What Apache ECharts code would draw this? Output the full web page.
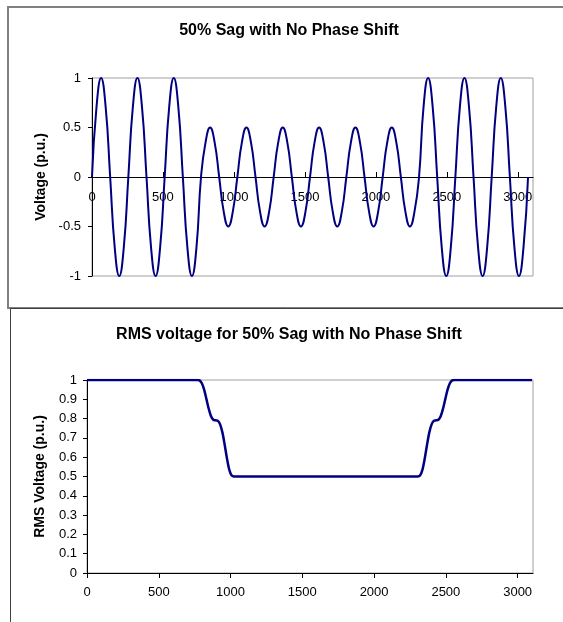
<!DOCTYPE html>
<html>
<head>
<meta charset="utf-8">
<script src="https://cdn.jsdelivr.net/npm/echarts@6/dist/echarts.min.js"></script>
<style>
  html, body { margin: 0; padding: 0; background: #fff; }
  #sag_chart { width: 563px; height: 622px; }
</style>
</head>
<body>
<div id="sag_chart"></div>
<script>
// samples of the instantaneous voltage (8 per cycle)
var waveTime = [0, 32, 64, 96, 128, 160, 192, 224, 256, 288, 320, 352, 384, 416, 448, 480,
    512, 544, 576, 608, 640, 672, 704, 736, 768, 800, 832, 864, 896, 928, 960, 992,
    1024, 1056, 1088, 1120, 1152, 1184, 1216, 1248, 1280, 1312, 1344, 1376, 1408, 1440, 1472, 1504,
    1536, 1568, 1600, 1632, 1664, 1696, 1728, 1760, 1792, 1824, 1856, 1888, 1920, 1952, 1984, 2016,
    2048, 2080, 2112, 2144, 2176, 2208, 2240, 2272, 2304, 2336, 2368, 2400, 2432, 2464, 2496, 2528,
    2560, 2592, 2624, 2656, 2688, 2720, 2752, 2784, 2816, 2848, 2880, 2912, 2944, 2976, 3008, 3040, 3072];
var waveVolts = [0, 0.71, 1, 0.71, 0, -0.71, -1, -0.71, 0, 0.71, 1, 0.71, 0, -0.71, -1, -0.71,
    0, 0.71, 1, 0.71, 0, -0.71, -1, -0.71, 0, 0.35, 0.5, 0.35, 0, -0.35, -0.5, -0.35,
    0, 0.35, 0.5, 0.35, 0, -0.35, -0.5, -0.35, 0, 0.35, 0.5, 0.35, 0, -0.35, -0.5, -0.35,
    0, 0.35, 0.5, 0.35, 0, -0.35, -0.5, -0.35, 0, 0.35, 0.5, 0.35, 0, -0.35, -0.5, -0.35,
    0, 0.35, 0.5, 0.35, 0, -0.35, -0.5, -0.35, 0, 0.71, 1, 0.71, 0, -0.71, -1, -0.71,
    0, 0.71, 1, 0.71, 0, -0.71, -1, -0.71, 0, 0.71, 1, 0.71, 0, -0.71, -1, -0.71, 0];

// rms voltage (bottom plot)
var rmsTime = [0, 768, 784, 800, 816, 832, 848, 864, 880, 896, 912, 928, 944, 960, 976, 992, 1008, 1024,
    2304, 2320, 2336, 2352, 2368, 2384, 2400, 2416, 2432, 2448, 2464, 2480, 2496, 2512, 2528, 2544, 2560, 3100];
var rmsVolts = [1, 1, 0.998, 0.983, 0.950, 0.901, 0.851, 0.812, 0.794, 0.791, 0.788, 0.769, 0.726, 0.661, 0.590, 0.533, 0.505, 0.5,
    0.5, 0.505, 0.533, 0.590, 0.661, 0.726, 0.769, 0.788, 0.791, 0.794, 0.812, 0.851, 0.901, 0.950, 0.983, 0.998, 1, 1];

var xTicks = [0, 500, 1000, 1500, 2000, 2500, 3000];
var xMax = 3107;

var font = 'Liberation Sans, Arial, sans-serif';

function pairs(xs, ys) {
    var out = [];
    for (var i = 0; i < xs.length; i++) {
        out.push([xs[i], ys[i]]);
    }
    return out;
}

function plain(v) {
    return String(v);
}

var chart = echarts.init(document.getElementById('sag_chart'));

var option = {
    animation: false,
    backgroundColor: '#fff',
    textStyle: { fontFamily: font, color: '#000' },
    title: [{
        text: '50% Sag with No Phase Shift',
        left: 289,
        top: 23,
        textAlign: 'center',
        padding: 0,
        textStyle: { fontFamily: font, fontSize: 16, fontWeight: 'bold', color: '#000' }
    }, {
        text: 'RMS voltage for 50% Sag with No Phase Shift',
        left: 289,
        top: 327,
        textAlign: 'center',
        padding: 0,
        textStyle: { fontFamily: font, fontSize: 16, fontWeight: 'bold', color: '#000' }
    }],
    graphic: [{
        type: 'rect',
        shape: { x: 8, y: 7, width: 620, height: 301 },
        style: { fill: null, stroke: '#808080', lineWidth: 2 },
        silent: true
    }, {
        type: 'rect',
        shape: { x: 10.5, y: 308.5, width: 620, height: 400 },
        style: { fill: null, stroke: '#404040', lineWidth: 1 },
        silent: true
    }],
    grid: [{
        left: 92, top: 78, width: 441, height: 198,
        show: true, borderColor: '#a0a0a0', borderWidth: 1,
        outerBoundsMode: 'none'
    }, {
        left: 87, top: 380, width: 446, height: 193,
        show: true, borderColor: '#a0a0a0', borderWidth: 1,
        outerBoundsMode: 'none'
    }],
    xAxis: [{
        gridIndex: 0,
        type: 'value',
        min: 0, max: xMax,
        // axis drawn along the zero line, labels just under it
        offset: -99,
        axisLine: { onZero: false, lineStyle: { color: '#000', width: 1 } },
        axisTick: { show: true, inside: true, length: 5, customValues: xTicks, lineStyle: { color: '#000' } },
        axisLabel: { customValues: xTicks, formatter: plain, margin: 14, fontSize: 13, color: '#000', fontFamily: font },
        splitLine: { show: false }
    }, {
        gridIndex: 1,
        type: 'value',
        min: 0, max: xMax,
        axisLine: { lineStyle: { color: '#000', width: 1 } },
        axisTick: { show: true, length: 5, customValues: xTicks, lineStyle: { color: '#000' } },
        axisLabel: { customValues: xTicks, formatter: plain, margin: 13, fontSize: 13, color: '#000', fontFamily: font },
        splitLine: { show: false }
    }],
    yAxis: [{
        gridIndex: 0,
        type: 'value',
        min: -1, max: 1, interval: 0.5,
        name: 'Voltage (p.u.)',
        nameLocation: 'middle',
        nameGap: 44,
        nameTextStyle: { fontFamily: font, fontSize: 14, fontWeight: 'bold', color: '#000' },
        axisLine: { show: true, lineStyle: { color: '#000', width: 1 } },
        axisTick: { show: true, length: 4, lineStyle: { color: '#000' } },
        axisLabel: { formatter: plain, margin: 11, fontSize: 13, color: '#000', fontFamily: font },
        splitLine: { show: false }
    }, {
        gridIndex: 1,
        type: 'value',
        min: 0, max: 1, interval: 0.1,
        name: 'RMS Voltage (p.u.)',
        nameLocation: 'middle',
        nameGap: 40,
        nameTextStyle: { fontFamily: font, fontSize: 14, fontWeight: 'bold', color: '#000' },
        axisLine: { show: true, lineStyle: { color: '#000', width: 1 } },
        axisTick: { show: true, length: 4, lineStyle: { color: '#000' } },
        axisLabel: { formatter: plain, margin: 10, fontSize: 13, color: '#000', fontFamily: font },
        splitLine: { show: false }
    }],
    series: [{
        name: 'voltage',
        type: 'line',
        xAxisIndex: 0,
        yAxisIndex: 0,
        data: pairs(waveTime, waveVolts),
        smooth: 0.5,
        showSymbol: false,
        lineStyle: { color: '#000080', width: 2 },
        itemStyle: { color: '#000080' }
    }, {
        name: 'rms',
        type: 'line',
        xAxisIndex: 1,
        yAxisIndex: 1,
        data: pairs(rmsTime, rmsVolts),
        smooth: 0.3,
        showSymbol: false,
        lineStyle: { color: '#000080', width: 2.5 },
        itemStyle: { color: '#000080' }
    }]
};

chart.setOption(option);
</script>
</body>
</html>
